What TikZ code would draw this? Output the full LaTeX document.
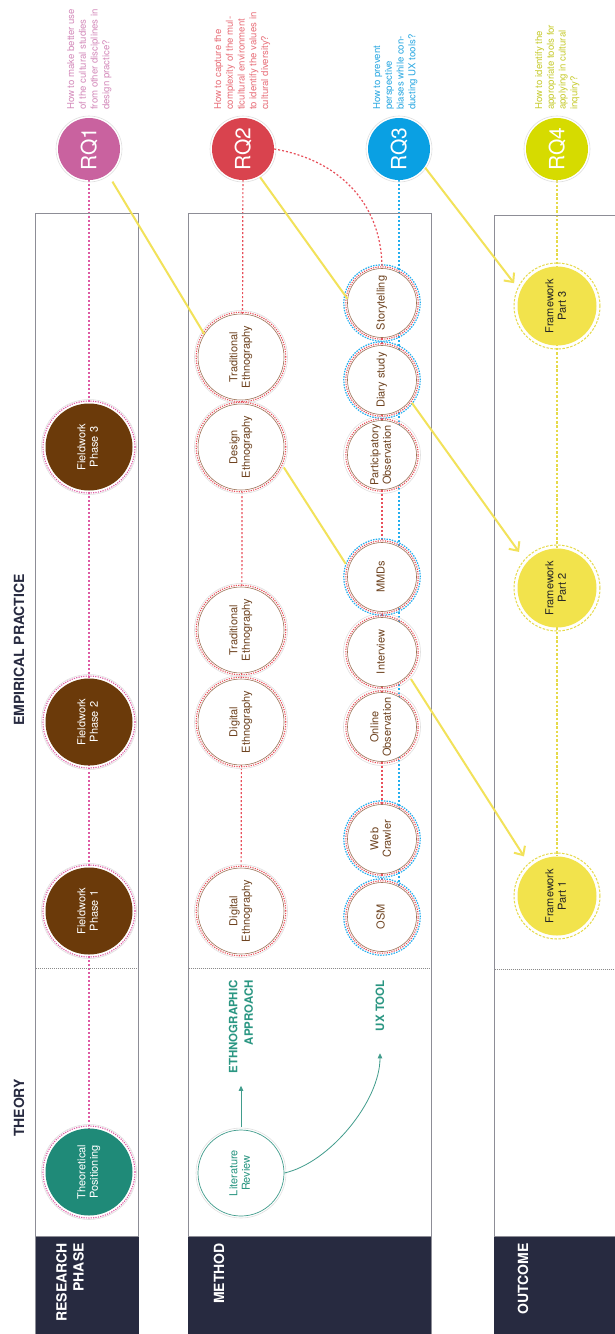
\documentclass[tikz,border=0pt]{standalone}
\usepackage{fontspec}
\setmainfont{TeX Gyre Heros}
\usepackage{graphicx}
\usetikzlibrary{arrows.meta}
\pgfdeclarelayer{background}
\pgfsetlayers{background,main}
\definecolor{navy}{HTML}{272A40}
\definecolor{boxgray}{HTML}{8D8D96}
\definecolor{sepgray}{HTML}{8A8A8A}
\definecolor{rqpink}{HTML}{C9629F}
\definecolor{pinktext}{HTML}{D48BBB}
\definecolor{pinkdot}{HTML}{DE5AA4}
\definecolor{rqred}{HTML}{D9434E}
\definecolor{redtext}{HTML}{E8707A}
\definecolor{reddot}{HTML}{E8505B}
\definecolor{rqblue}{HTML}{0AA0E3}
\definecolor{bluedot}{HTML}{22AEEF}
\definecolor{bluetext}{HTML}{2AA8E2}
\definecolor{rqyel}{HTML}{D6DB00}
\definecolor{yeltext}{HTML}{C7CB2E}
\definecolor{tealc}{HTML}{1F8A78}
\definecolor{tealtext}{HTML}{2A9682}
\definecolor{brownfill}{HTML}{6B3A0A}
\definecolor{brownline}{HTML}{9C7155}
\definecolor{browntext}{HTML}{6E4320}
\definecolor{fwyel}{HTML}{F2E34C}
\definecolor{fwring}{HTML}{E6DA48}
\definecolor{arrowyel}{HTML}{F2E25A}
\definecolor{ringgray}{HTML}{E0E0E0}
\newcommand{\rottext}[1]{\rotatebox{90}{\begin{tabular}{@{}c@{}}#1\end{tabular}}}
\begin{document}
\begin{tikzpicture}[x=1pt,y=-1pt,
  boxline/.style={draw=boxgray, line width=0.9pt},
  sep/.style={draw=sepgray, line width=0.7pt, dash pattern=on 1pt off 1pt},
  header/.style={rotate=90, font=\fontsize{14}{16}\selectfont\bfseries, text=navy, inner sep=0pt},
  darklabel/.style={rotate=90, align=right, text=white, font=\fontsize{14}{17}\selectfont\bfseries, inner sep=0pt},
  methlabel/.style={rotate=90, align=right, text=tealtext, font=\fontsize{11.5}{15.5}\selectfont\bfseries, inner sep=0pt},
  quest/.style={rotate=90, anchor=north west, align=left, inner sep=0pt, font=\fontsize{9.6}{11.7}\selectfont},
  rq/.style={circle, minimum size=62pt, inner sep=0pt, text=white, font=\fontsize{21}{21}\selectfont},
  phase/.style={circle, minimum size=87pt, inner sep=0pt, text=white, font=\fontsize{11}{12.5}\selectfont},
  eth/.style={circle, minimum size=86pt, inner sep=0pt, draw=brownline, line width=0.6pt, fill=white, text=browntext, font=\fontsize{11}{12.5}\selectfont},
  ux/.style={circle, minimum size=69pt, inner sep=0pt, draw=brownline, line width=0.6pt, fill=white, text=browntext, font=\fontsize{11}{12.5}\selectfont},
  fw/.style={circle, minimum size=79pt, inner sep=0pt, fill=fwyel, text=black!85, font=\fontsize{11}{12.5}\selectfont},
  lit/.style={circle, minimum size=86pt, inner sep=0pt, draw=tealc!85, line width=0.7pt, fill=white, text=tealtext, font=\fontsize{11}{12.5}\selectfont},
  pinkring/.style={draw=pinkdot, line width=1.1pt, dash pattern=on 1.2pt off 1.2pt},
  redring/.style={draw=reddot, line width=1.1pt, dash pattern=on 1.2pt off 1.2pt},
  bluering/.style={draw=bluedot, line width=1.2pt, dash pattern=on 1.5pt off 1.2pt},
  yelring/.style={draw=fwring, line width=1pt, dash pattern=on 2.5pt off 1.5pt},
  faintring/.style={draw=ringgray, line width=0.6pt},
  pinkline/.style={draw=pinkdot, line width=1.2pt, dash pattern=on 2pt off 2pt},
  redline/.style={draw=reddot, line width=1.2pt, dash pattern=on 2pt off 2pt},
  blueline/.style={draw=bluedot, line width=1.2pt, dash pattern=on 2pt off 2pt},
  yelline/.style={draw=fwring, line width=1.6pt, dash pattern=on 2.5pt off 1.8pt},
  yarrow/.style={draw=arrowyel, line width=2pt},
  yarrowtip/.style={yarrow, -{Straight Barb[length=7pt,width=13pt]}},
  tealarrow/.style={draw=tealc!85, line width=0.8pt, -{Triangle[length=5pt,width=4.5pt]}}
]
\useasboundingbox (0,0) rectangle (614,1334);
\begin{pgfonlayer}{background}
\fill[white] (0,0) rectangle (614,1334);
\end{pgfonlayer}

% column boxes
\draw[boxline] (35.5,1334) -- (35.5,213) -- (138.5,213) -- (138.5,1334);
\draw[boxline] (188,1334) -- (188,213) -- (431,213) -- (431,1334);
\draw[boxline] (494,1334) -- (494,215) -- (616,215);
\fill[navy] (35.5,1236) rectangle (138.5,1334);
\fill[navy] (188,1236) rectangle (431,1334);
\fill[navy] (494,1236) rectangle (616,1334);
\draw[boxline] (35.5,1236) -- (138.5,1236);
\draw[boxline] (188,1236) -- (431,1236);
\draw[boxline] (494,1236) -- (616,1236);

% theory / empirical separator
\draw[sep] (36,968) -- (138,968);
\draw[sep] (188.5,968) -- (430.5,968);
\draw[sep] (494.5,969) -- (614,969);

% headers
\node[header] (theory) at (19,1108) {THEORY};
\node[header] (emp) at (19,650) {EMPIRICAL PRACTICE};
\node[darklabel, anchor=east] (lres) at (70,1243) {RESEARCH\\PHASE};
\node[darklabel, anchor=east] (lmet) at (219,1243) {METHOD};
\node[darklabel, anchor=east] (lout) at (523,1243) {OUTCOME};

% research questions
\node[rq, fill=rqpink] (rq1) at (89,149) {\rotatebox{90}{RQ1}};
\node[rq, fill=rqred] (rq2) at (243,149) {\rotatebox{90}{RQ2}};
\node[rq, fill=rqblue] (rq3) at (399,149) {\rotatebox{90}{RQ3}};
\node[rq, fill=rqyel] (rq4) at (557,149) {\rotatebox{90}{RQ4}};
\foreach \n in {rq1,rq2,rq3,rq4} \draw[faintring] (\n.center) circle[radius=33pt];

\node[quest, text=pinktext] (q1) at (67,110) {How to make better use\\of the cultural studies\\from other disciplines in\\design practice?};
\node[quest, text=redtext] (q2) at (214,110) {How to capture the\\complexity of the mul-\\ticultural environment\\to identify the values in\\cultural diversity?};
\node[quest, text=bluetext] (q3) at (373,110) {How to prevent\\perspective\\biases while con-\\ducting UX tools?};
\node[quest, text=yeltext] (q4) at (535,110) {How to identify the\\appropriate tools for\\applying in cultural\\inquiry?};

% research phase
\node[phase, fill=tealc] (tp) at (89,1172) {\rottext{Theoretical\\Positioning}};
\node[phase, fill=brownfill] (fp1) at (89,911) {\rottext{Fieldwork\\Phase 1}};
\node[phase, fill=brownfill] (fp2) at (89,722) {\rottext{Fieldwork\\Phase 2}};
\node[phase, fill=brownfill] (fp3) at (89,447) {\rottext{Fieldwork\\Phase 3}};
\foreach \n in {tp,fp1,fp2,fp3} {
  \draw[faintring] (\n.center) circle[radius=47.5pt];
  \draw[pinkring] (\n.center) circle[radius=46pt];
}

% method: ethnographic approach
\node[eth] (te3) at (241,357) {\rottext{Traditional\\Ethnography}};
\node[eth] (de) at (241,447) {\rottext{Design\\Ethnography}};
\node[eth] (te2) at (241,630) {\rottext{Traditional\\Ethnography}};
\node[eth] (dg2) at (241,722) {\rottext{Digital\\Ethnography}};
\node[eth] (dg1) at (241,911) {\rottext{Digital\\Ethnography}};
\foreach \n in {te3,de,te2,dg2,dg1} {
  \draw[faintring] (\n.center) circle[radius=46.5pt];
  \draw[redring] (\n.center) circle[radius=44.8pt];
}

% method: UX tools
\node[ux] (st) at (382,303) {\rottext{Storytelling}};
\node[ux] (ds) at (382,380) {\rottext{Diary study}};
\node[ux] (po) at (382,455) {\rottext{Participatory\\Observation}};
\node[ux] (mmd) at (382,577) {\rottext{MMDs}};
\node[ux] (iv) at (382,652) {\rottext{Interview}};
\node[ux] (oo) at (382,727) {\rottext{Online\\Observation}};
\node[ux] (wc) at (382,839) {\rottext{Web\\Crawler}};
\node[ux] (osm) at (382,917) {\rottext{OSM}};
\foreach \n in {po,iv,oo} \draw[faintring] (\n.center) circle[radius=38.5pt];
\foreach \n in {st,ds,mmd,wc,osm} \draw[bluering] (\n.center) circle[radius=38.2pt];
\foreach \n in {st,ds,po,mmd,iv,oo,wc,osm} \draw[redring] (\n.center) circle[radius=36.2pt];

% literature review
\node[lit] (lr) at (241,1173) {\rottext{Literature\\Review}};
\draw[faintring] (lr.center) circle[radius=45pt];
\node[methlabel, anchor=east] (ethl) at (241,980) {ETHNOGRAPHIC\\APPROACH};
\node[methlabel, anchor=east] (uxl) at (380,980) {UX TOOL};
\draw[tealarrow, shorten <=3pt, shorten >=12pt] (lr) -- (ethl);
\draw[tealarrow, shorten >=22pt] (lr.east) .. controls +(45,-10) and +(0,70) .. (uxl.west);

% outcome
\node[fw] (fw3) at (557,306) {\rottext{Framework\\Part 3}};
\node[fw] (fw2) at (557,588) {\rottext{Framework\\Part 2}};
\node[fw] (fw1) at (557,896) {\rottext{Framework\\Part 1}};
\foreach \n in {fw1,fw2,fw3} \draw[yelring] (\n.center) circle[radius=43pt];

% vertical dotted connectors
\begin{pgfonlayer}{background}
\draw[pinkline] (rq1) -- (tp);
\draw[redline] (rq2) -- (dg1);
\draw[redline] (st) -- (osm);
\draw[blueline] (rq3) -- (rq3 |- osm);
\draw[yelline] (rq4) -- (fw1);
\end{pgfonlayer}
\draw[redline] (rq2.east) .. controls +(70,12) and +(0,-60) .. (st.north);

% yellow links
\draw[yarrow, shorten <=9pt] (rq1.-53) -- (te3.148);
\draw[yarrow, shorten <=2pt] (rq2.-59) -- (st.173);
\draw[yarrowtip, shorten <=1pt, shorten >=10pt] (rq3.-35) -- (fw3.158);
\draw[yarrow, shorten <=5pt, shorten >=5pt] (de.-22) -- (mmd.165);
\draw[yarrowtip, shorten <=3pt, shorten >=13pt] (ds.-36) -- (fw2.140);
\draw[yarrowtip, shorten <=5pt, shorten >=12pt] (iv.-41) -- (fw1.132);
\end{tikzpicture}
\end{document}
